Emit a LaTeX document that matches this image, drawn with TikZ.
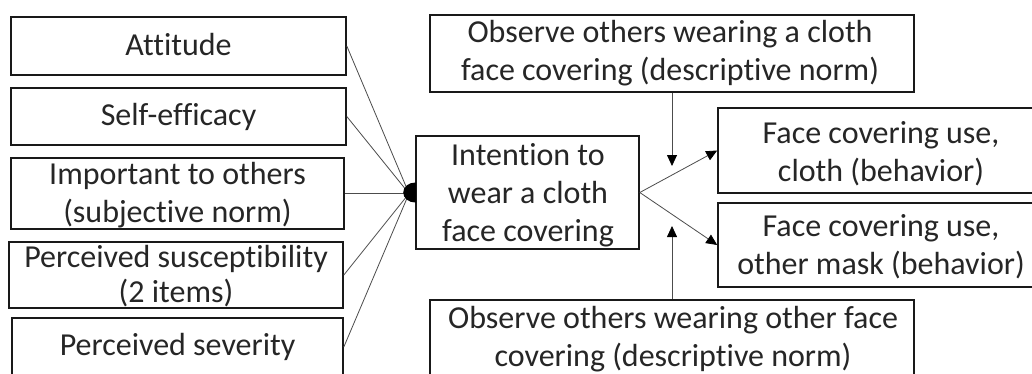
\documentclass[tikz,border=0pt]{standalone}
\usepackage{fontspec}
\setmainfont{Carlito}[Ligatures=NoCommon]
\usetikzlibrary{arrows.meta}
\newcommand\mylines[1]{\begin{tabular}[t]{@{}c@{}}#1\end{tabular}}
\begin{document}
\begin{tikzpicture}[x=1pt,y=-1pt,
  box/.style={draw=black!90,line width=1.6pt,fill=white,inner sep=0pt},
  txt/.style={anchor=base,inner sep=0pt,text=black!85,font=\fontsize{32}{38}\selectfont},
  conn/.style={draw=black!70,line width=0.8pt},
  arr/.style={conn,-{Triangle[length=11pt,width=10pt,color=black]}}]
\useasboundingbox[fill=white] (0,0) rectangle (1032,373);
% boxes
\node[box,minimum width=335pt,minimum height=58pt] (att) at (178.5,46) {};
\node[box,minimum width=335pt,minimum height=57pt] (self) at (178.5,116.5) {};
\node[box,minimum width=333pt,minimum height=71pt] (imp) at (177.5,193.5) {};
\node[box,minimum width=334pt,minimum height=66pt] (sus) at (176,275) {};
\node[box,minimum width=331pt,minimum height=58pt] (sev) at (177.5,347) {};
\node[box,minimum width=223pt,minimum height=113pt] (int) at (527.5,192.5) {};
\node[box,minimum width=484pt,minimum height=77pt] (obs1) at (672,53.5) {};
\node[box,minimum width=484pt,minimum height=76pt] (obs2) at (672,338) {};
\node[box,minimum width=318pt,minimum height=85pt] (beh1) at (877,150.5) {};
\node[box,minimum width=318pt,minimum height=84pt] (beh2) at (877,245) {};
% texts
\node[txt] (attT) at (178.5,55) {Attitude};
\node[txt] (selfT) at (178.5,125) {Self-efficacy};
\node[txt] (impT) at (177.5,184) {\mylines{Important to others\\(subjective norm)}};
\node[txt] (susT) at (176,267) {\mylines{Perceived susceptibility\\[-3pt](2 items)}};
\node[txt] (sevT) at (177.5,355) {Perceived severity};
\node[txt] (intT) at (528,165) {\mylines{Intention to\\wear a cloth\\face covering}};
\node[txt] (obs1T) at (670,42) {\mylines{Observe others wearing a cloth\\face covering (descriptive norm)}};
\node[txt] (obs2T) at (673,328) {\mylines{Observe others wearing other face\\covering (descriptive norm)}};
\node[txt] (beh1T) at (881,143) {\mylines{Face covering use,\\cloth (behavior)}};
\node[txt] (beh2T) at (881,236) {\mylines{Face covering use,\\other mask (behavior)}};
% hub and connectors
\coordinate (hub) at (409,193.5);
\draw[conn] (att.east) -- (hub);
\draw[conn] (self.east) -- (hub);
\draw[conn] (imp.east) -- (hub);
\draw[conn] (sus.east) -- (hub);
\draw[conn] (sev.east) -- (hub);
\begin{scope}
  \clip (400,180) rectangle (416,207);
  \fill[black] (int.west) ellipse[x radius=12, y radius=10];
\end{scope}
\coordinate (t1) at (672,166);
\coordinate (t2) at (672,226);
\draw[arr] (int.east) -- (beh1.west);
\draw[arr] (int.east) -- (beh2.west);
\draw[arr] (obs1.south) -- (t1);
\draw[arr] (obs2.north) -- (t2);
\end{tikzpicture}
\end{document}
